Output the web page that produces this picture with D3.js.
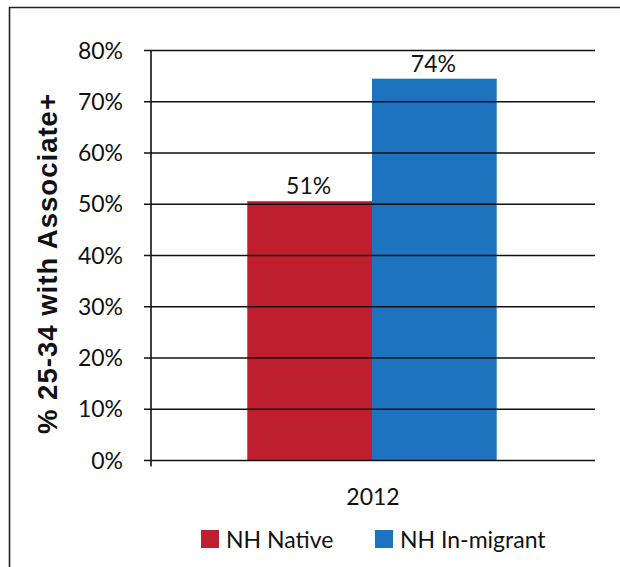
<!DOCTYPE html>
<html>
<head>
<meta charset="utf-8">
<script src="https://cdn.jsdelivr.net/npm/d3@7/dist/d3.min.js"></script>
<style>
  html, body { margin: 0; padding: 0; background: #fff; }
  svg { display: block; }
  text { font-family: Lato, "Open Sans", sans-serif; fill: #111; }
  text.ytitle { font-family: "Liberation Sans", Arial, sans-serif; font-weight: bold; }
</style>
</head>
<body>
<svg id="chart" width="620" height="567"></svg>
<script>
const categories = ["2012"];
const seriesNames = ["NH Native", "NH In-migrant"];
const seriesColors = ["#BE1E2D", "#1E73BE"];
const nativeValues = [50.6];
const inMigrantValues = [74.5];
const valueLabels = [["51%"], ["74%"]];
const yTicks = [0, 10, 20, 30, 40, 50, 60, 70, 80];
const yTitle = "% 25-34 with Associate+";

(function () {
const series = [nativeValues, inMigrantValues];

const svg = d3.select("#chart");

// frame (top and left edges visible)
svg.append("path")
  .attr("d", "M9.5,620 L9.5,7.5 L620,7.5")
  .attr("fill", "none")
  .attr("stroke", "#222")
  .attr("stroke-width", 1.6);

const pLeft = 151, pRight = 595, pTop = 50.5, pBottom = 460.5;

const y = d3.scaleLinear().domain([0, 80]).range([pBottom, pTop]);
const x0 = d3.scaleBand().domain(categories).range([pLeft, pRight]).paddingInner(0).paddingOuter(0.39);
const x1 = d3.scaleBand().domain(d3.range(series.length)).range([0, x0.bandwidth()]).padding(0);

// bars
const g = svg.append("g");
categories.forEach((c, ci) => {
  series.forEach((s, si) => {
    g.append("rect")
      .attr("x", x0(c) + x1(si) - 1)
      .attr("y", y(s[ci]))
      .attr("width", x1.bandwidth())
      .attr("height", y(0) - y(s[ci]))
      .attr("fill", seriesColors[si]);
    g.append("text")
      .attr("x", x0(c) + x1(si) + x1.bandwidth() / 2 - 2)
      .attr("y", y(s[ci]) - 7)
      .attr("text-anchor", "middle")
      .attr("font-size", 23)
      .text(valueLabels[si][ci]);
  });
});

// gridlines (drawn over bars, as in the reference)
svg.append("g").selectAll("line")
  .data(yTicks)
  .join("line")
  .attr("x1", pLeft - 7)
  .attr("x2", pRight)
  .attr("y1", d => y(d))
  .attr("y2", d => y(d))
  .attr("stroke", "#111")
  .attr("stroke-width", 1.5);

// y axis line
svg.append("line")
  .attr("x1", pLeft).attr("x2", pLeft)
  .attr("y1", pTop).attr("y2", pBottom + 6)
  .attr("stroke", "#111")
  .attr("stroke-width", 1.6);

// y tick labels
svg.append("g").selectAll("text")
  .data(yTicks)
  .join("text")
  .attr("x", 123)
  .attr("y", d => y(d) + 8)
  .attr("text-anchor", "end")
  .attr("font-size", 23)
  .text(d => d + "%");

// x category label
svg.append("g").selectAll("text")
  .data(categories)
  .join("text")
  .attr("x", d => x0(d) + x0.bandwidth() / 2)
  .attr("y", 505)
  .attr("text-anchor", "middle")
  .attr("font-size", 23)
  .text(d => d);

// y title
svg.append("text")
  .attr("class", "ytitle")
  .attr("transform", "translate(57,264) rotate(-90)")
  .attr("text-anchor", "middle")
  .attr("font-size", 27.5)
  .attr("textLength", 340)
  .attr("lengthAdjust", "spacing")
  .text(yTitle);

// legend
const legendX = [201, 375];
const legend = svg.append("g");
seriesNames.forEach((name, i) => {
  legend.append("rect")
    .attr("x", legendX[i]).attr("y", 530)
    .attr("width", 18).attr("height", 18)
    .attr("fill", seriesColors[i]);
  legend.append("text")
    .attr("x", legendX[i] + 25)
    .attr("y", 548)
    .attr("font-size", 23)
    .text(name);
});
})();
</script>
</body>
</html>
